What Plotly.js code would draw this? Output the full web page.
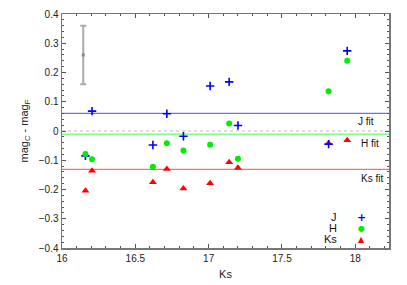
<!DOCTYPE html>
<html>
<head>
<meta charset="utf-8">
<script src="https://cdn.plot.ly/plotly-3.0.1.min.js"></script>
<style>html,body{margin:0;padding:0;background:#fff;}#chart{width:407px;height:285px;}</style>
</head>
<body>
<div id="chart"></div>
<script>
// Ks magnitude of each star
const ksMag = [16.16, 16.205, 16.62, 16.715, 16.828, 17.01, 17.14, 17.2, 17.818, 17.945];
// mag_C - mag_F per band
const jDiff  = [-0.085, 0.068, -0.048, 0.059, -0.018, 0.154, 0.168, 0.019, -0.045, 0.274];
const hDiff  = [-0.079, -0.097, -0.122, -0.042, -0.067, -0.047, 0.026, -0.095, 0.136, 0.240];
const ksDiff = [-0.204, -0.136, -0.175, -0.130, -0.197, -0.179, -0.107, -0.126, -0.042, -0.032];
// fit levels
const fitNames = ["J fit", "H fit", "Ks fit"];
const fitLevels = [0.0605, -0.011, -0.131];
// typical error bar
const errX = [16.145];
const errY = [0.26];
const errSize = [0.1];

const W = 407, H = 285, L = 62, R = 18, T = 14, B = 37;
const pw = W - L - R, ph = H - T - B;
const px = x => (x - L) / pw;
const py = y => (H - B - y) / ph;

const font = {family: "Liberation Sans, Arial, sans-serif", size: 10, color: "#222"};

const traces = [
  {x: errX, y: errY, type: "scatter", mode: "markers",
   marker: {color: "#888", size: 3, symbol: "square"},
   error_y: {type: "data", array: errSize, visible: true, color: "#aaa", thickness: 2, width: 3},
   showlegend: false, hoverinfo: "skip"},
  {x: ksMag, y: ksDiff, name: "Ks", type: "scatter", mode: "markers",
   marker: {color: "#ff0000", size: 7, symbol: "triangle-up"}},
  {x: ksMag, y: jDiff, name: "J", type: "scatter", mode: "markers",
   marker: {color: "#0000ff", size: 6, symbol: "cross-thin", line: {color: "#0000ff", width: 1.6}}},
  {x: ksMag, y: hDiff, name: "H", type: "scatter", mode: "markers",
   marker: {color: "#00ee00", size: 6, symbol: "circle"}}
];

const fitColors = ["#6f6fff", "#66ff66", "#ff6f6f"];
const shapes = [
  {type: "line", xref: "paper", x0: 0, x1: 1, yref: "y", y0: 0, y1: 0,
   line: {color: "#bbb", width: 1, dash: "dot"}, layer: "below"}
];
fitLevels.forEach((v, i) => shapes.push({type: "line", xref: "paper", x0: 0, x1: 1, yref: "y", y0: v, y1: v,
  line: {color: fitColors[i], width: 1.2}, layer: "below"}));

const fitLabelPos = [[366, 121], [370, 143.5], [372, 178.5]];
const annotations = fitNames.map((t, i) => ({
  text: t, xref: "paper", yref: "paper", x: px(fitLabelPos[i][0]), y: py(fitLabelPos[i][1]),
  xanchor: "center", yanchor: "middle", showarrow: false,
  font: {family: font.family, size: 10, color: "#111"}
}));

// legend drawn as text: label then symbol
const legNames = ["J", "H", "Ks"];
const legSyms = ["+", "●", "▲"];
const legCols = ["#0000ff", "#00ee00", "#ff0000"];
const legY = [217, 228, 239];
legNames.forEach((n, i) => {
  annotations.push({text: n, xref: "paper", yref: "paper", x: px(339), y: py(legY[i]),
    xanchor: "right", yanchor: "middle", showarrow: false,
    font: {family: font.family, size: 11, color: "#111"}});
  annotations.push({text: legSyms[i], xref: "paper", yref: "paper", x: px(361), y: py(legY[i]),
    xanchor: "center", yanchor: "middle", showarrow: false,
    font: {family: "DejaVu Sans", size: i === 0 ? 11 : 8, color: legCols[i], weight: i === 0 ? "bold" : "normal"}});
});

const axisCommon = {
  showgrid: false, zeroline: false, showline: true, linecolor: "#777", linewidth: 1.5,
  mirror: "allticks", ticks: "inside", ticklen: 4, tickcolor: "#555", tickwidth: 1,
  tickfont: font
};

const layout = {
  width: W, height: H,
  margin: {l: L, r: R, t: T, b: B},
  paper_bgcolor: "#fff", plot_bgcolor: "#fff",
  showlegend: false,
  font: font,
  xaxis: Object.assign({}, axisCommon, {
    range: [16, 18.23], dtick: 0.5, tick0: 16,
    minor: {dtick: 0.1, ticks: "inside", ticklen: 2, tickcolor: "#555"},
    title: {text: "Ks", font: {family: font.family, size: 11, color: "#222"}, standoff: 8}
  }),
  yaxis: Object.assign({}, axisCommon, {
    range: [-0.4, 0.4], dtick: 0.1, tick0: 0,
    minor: {dtick: 0.02, ticks: "inside", ticklen: 2, tickcolor: "#555"},
    title: {text: "mag<sub>C</sub> - mag<sub>F</sub>", font: {family: font.family, size: 11, color: "#222"}, standoff: 8}
  }),
  shapes: shapes,
  annotations: annotations
};

Plotly.newPlot("chart", traces, layout, {displayModeBar: false, staticPlot: true});
</script>
</body>
</html>
